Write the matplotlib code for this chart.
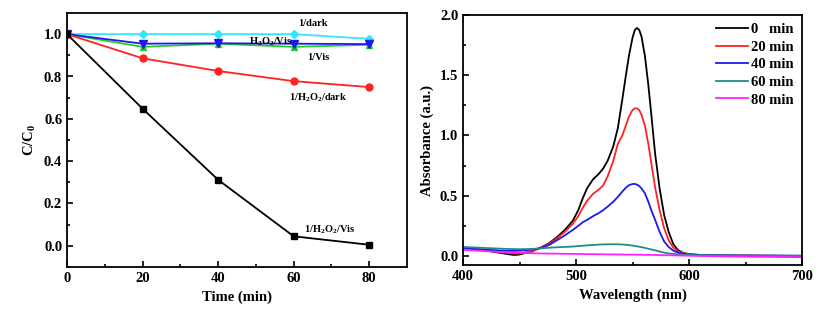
import matplotlib
matplotlib.use("Agg")
import matplotlib.pyplot as plt

plt.rcParams['font.family'] = ['Liberation Serif', 'DejaVu Serif']
plt.rcParams['font.weight'] = 'bold'
plt.rcParams['axes.labelweight'] = 'bold'
plt.rcParams['mathtext.fontset'] = 'custom'
plt.rcParams['mathtext.rm'] = 'Liberation Serif:bold'
plt.rcParams['mathtext.bf'] = 'Liberation Serif:bold'
plt.rcParams['mathtext.default'] = 'bf'

# left panel: C/C0 vs time
time = [0, 20, 40, 60, 80]
h2o2_vis_1 = [1.0, 0.648, 0.312, 0.045, 0.005]
h2o2_dark_1 = [1.0, 0.886, 0.826, 0.778, 0.750]
vis_1 = [1.0, 0.940, 0.955, 0.940, 0.950]
h2o2_vis = [1.0, 0.955, 0.957, 0.955, 0.953]
dark_1 = [1.0, 1.0, 1.0, 1.0, 0.978]

# right panel: absorption spectra
wl = [400, 420, 440, 445, 450, 460, 468, 476, 483, 490, 497, 502, 506, 510, 515, 520, 524, 528, 533, 537,
      541, 544, 547, 550, 552, 554, 556, 558, 561, 564, 567, 570, 574,
      578, 582, 586, 590, 595, 600, 610, 620, 650, 700]
a0 = [0.068, 0.045, 0.015, 0.008, 0.012, 0.035, 0.065, 0.105, 0.155, 0.215, 0.29, 0.38, 0.48, 0.565, 0.635,
      0.68, 0.725, 0.79, 0.91, 1.06,
      1.30, 1.49, 1.67, 1.81, 1.875, 1.893, 1.875, 1.82, 1.66, 1.42, 1.14, 0.85, 0.56,
      0.34, 0.2, 0.1, 0.05, 0.025, 0.015, 0.008, 0.005, 0.003, 0.0]
a20 = [0.068, 0.048, 0.025, 0.02, 0.022, 0.038, 0.065, 0.1, 0.145, 0.2, 0.265, 0.33, 0.40, 0.46, 0.515,
       0.55, 0.585, 0.66, 0.79, 0.93,
       1.0, 1.08, 1.16, 1.21, 1.225, 1.225, 1.21, 1.17, 1.08, 0.93, 0.75, 0.57, 0.38,
       0.23, 0.13, 0.07, 0.04, 0.022, 0.014, 0.008, 0.005, 0.003, 0.0]
a40 = [0.065, 0.052, 0.042, 0.042, 0.044, 0.052, 0.064, 0.09, 0.13, 0.17, 0.215, 0.25, 0.28, 0.3, 0.33,
       0.355, 0.38, 0.41, 0.45, 0.49,
       0.535, 0.565, 0.588, 0.597, 0.598, 0.592, 0.58, 0.56, 0.52, 0.45, 0.37, 0.3, 0.2,
       0.12, 0.075, 0.045, 0.028, 0.018, 0.012, 0.008, 0.005, 0.003, 0.002]
a60 = [0.075, 0.066, 0.058, 0.057, 0.056, 0.058, 0.062, 0.068, 0.072, 0.075, 0.078, 0.082, 0.085, 0.088, 0.091,
       0.094, 0.096, 0.097, 0.097, 0.097,
       0.095, 0.093, 0.09, 0.086, 0.083, 0.08, 0.077, 0.073, 0.067, 0.06, 0.053, 0.047, 0.037,
       0.027, 0.021, 0.017, 0.013, 0.01, 0.008, 0.006, 0.005, 0.003, 0.002]
a80 = [0.05, 0.04, 0.03, 0.028, 0.026, 0.023, 0.021, 0.02, 0.019, 0.018, 0.017, 0.016, 0.016, 0.015, 0.015,
       0.014, 0.014, 0.013, 0.013, 0.012,
       0.012, 0.011, 0.011, 0.011, 0.010, 0.010, 0.010, 0.010, 0.009, 0.009, 0.009, 0.008, 0.007,
       0.006, 0.006, 0.005, 0.004, 0.003, 0.002, 0.0, -0.002, -0.006, -0.01]

fig = plt.figure(figsize=(8.28, 3.15), dpi=100)
ax1 = fig.add_axes([67/828, 48/315, 340/828, 254/315])
ax2 = fig.add_axes([463/828, 50/315, 339/828, 250/315])

ax1.plot(time, dark_1, color='#33e5ff', marker='D', ms=4.5, lw=1.3)
ax1.plot(time, vis_1, color='#22cc22', marker='^', ms=5, lw=1.3)
ax1.plot(time, h2o2_vis, color='#1a1aee', marker='v', ms=6, lw=1.3)
ax1.plot(time, h2o2_dark_1, color='#ff2222', marker='o', ms=5, lw=1.3)
ax1.plot(time, h2o2_vis_1, color='black', marker='s', ms=4.5, lw=1.3)

ax1.set_xlim(0, 90)
ax1.set_ylim(-0.1, 1.1)
ax1.set_xticks([0, 20, 40, 60, 80])
ax1.set_xticks([10, 30, 50, 70], minor=True)
ax1.set_yticks([0.0, 0.2, 0.4, 0.6, 0.8, 1.0])
ax1.set_yticks([-0.1, 0.1, 0.3, 0.5, 0.7, 0.9], minor=True)
ax1.set_xlabel('Time (min)', fontsize=10.5)
ax1.set_ylabel('C/C$_0$', fontsize=10.5)

ax1.text(65, 1.05, '1/dark', fontsize=7.5, ha='center', va='center')
ax1.text(54, 0.965, 'H$_2$O$_2$/Vis', fontsize=7.5, ha='center', va='center')
ax1.text(66.5, 0.89, '1/Vis', fontsize=7.5, ha='center', va='center')
ax1.text(66.5, 0.70, '1/H$_2$O$_2$/dark', fontsize=7.5, ha='center', va='center')
ax1.text(69.5, 0.075, '1/H$_2$O$_2$/Vis', fontsize=7.5, ha='center', va='center')

ax2.plot(wl, a0, color='black', lw=1.3, label='0   min')
ax2.plot(wl, a20, color='#ff2222', lw=1.3, label='20 min')
ax2.plot(wl, a40, color='#1a1aee', lw=1.3, label='40 min')
ax2.plot(wl, a60, color='#1e8c8c', lw=1.3, label='60 min')
ax2.plot(wl, a80, color='#ff22ff', lw=1.3, label='80 min')

ax2.set_xlim(400, 700)
ax2.set_ylim(-0.075, 2.0)
ax2.set_xticks([400, 500, 600, 700])
ax2.set_xticks([450, 550, 650], minor=True)
ax2.set_yticks([0.0, 0.5, 1.0, 1.5, 2.0])
ax2.set_yticks([0.25, 0.75, 1.25, 1.75], minor=True)
ax2.set_xlabel('Wavelength (nm)', fontsize=10.5)
ax2.set_ylabel('Absorbance (a.u.)', fontsize=10.5)
ax2.legend(loc='upper right', frameon=False, fontsize=10.5, handlelength=2.2,
           handletextpad=0.2, labelspacing=0.3, borderaxespad=0.15)

for ax in (ax1, ax2):
    ax.tick_params(which='both', direction='in', labelsize=10.5, width=1.2)
    ax.tick_params(which='major', length=4)
    ax.tick_params(which='minor', length=2.5)
    for s in ax.spines.values():
        s.set_linewidth(1.3)

fig.savefig('out.png', dpi=100)
